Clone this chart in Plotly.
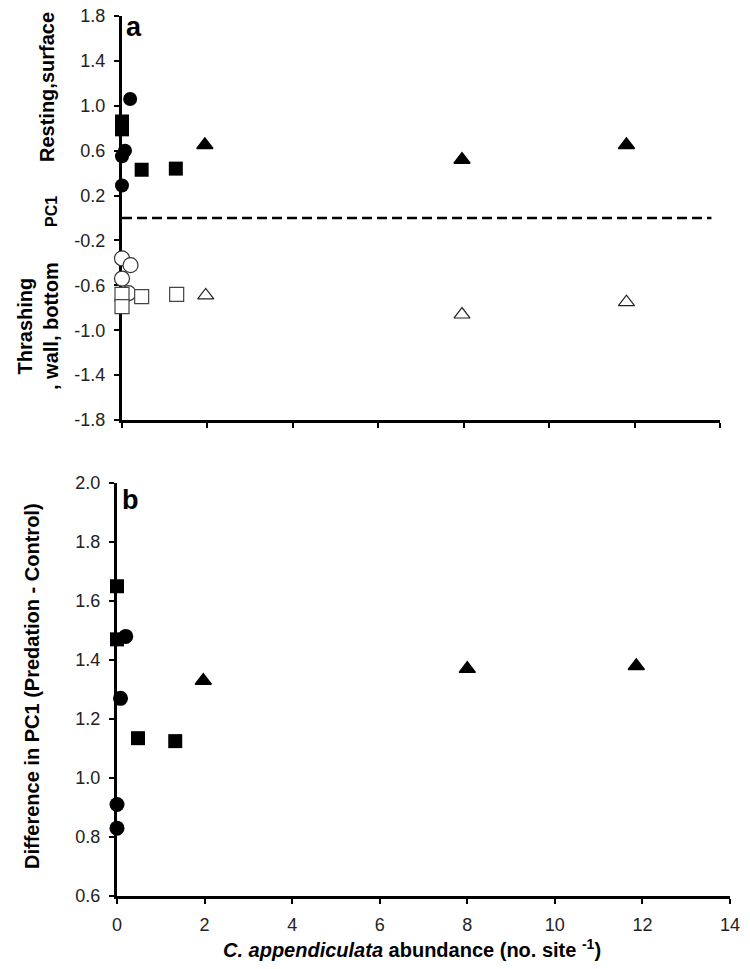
import plotly.graph_objects as go

# ---------------- Data ----------------
# Panel a: PC1 (filled = predation, open = control)
a_fill_circle_x = [0.19, 0.07, 0.0, 0.0]
a_fill_circle_y = [1.06, 0.60, 0.55, 0.29]
a_fill_square_x = [0.0, 0.0, 0.46, 1.26]
a_fill_square_y = [0.86, 0.79, 0.43, 0.44]
a_fill_tri_x = [1.94, 7.96, 11.81]
a_fill_tri_y = [0.65, 0.52, 0.65]
a_open_circle_x = [0.0, 0.2, 0.0, 0.15]
a_open_circle_y = [-0.36, -0.42, -0.54, -0.67]
a_open_square_x = [0.0, 0.0, 0.46, 1.28]
a_open_square_y = [-0.68, -0.79, -0.70, -0.68]
a_open_tri_x = [1.96, 7.96, 11.81]
a_open_tri_y = [-0.69, -0.86, -0.75]

# Panel b: Difference in PC1 (Predation - Control)
b_circle_x = [0.2, 0.08, 0.0, 0.0]
b_circle_y = [1.48, 1.27, 0.91, 0.83]
b_square_x = [0.0, 0.0, 0.48, 1.33]
b_square_y = [1.65, 1.47, 1.135, 1.125]
b_tri_x = [1.97, 8.0, 11.86]
b_tri_y = [1.33, 1.37, 1.38]

x_ticks = [0, 2, 4, 6, 8, 10, 12, 14]
a_y_ticks = [-1.8, -1.4, -1.0, -0.6, -0.2, 0.2, 0.6, 1.0, 1.4, 1.8]
b_y_ticks = [0.6, 0.8, 1.0, 1.2, 1.4, 1.6, 1.8, 2.0]
ref_line_x = [0, 13.8]
ref_line_y = [0, 0]

W, H = 750, 969
FONT = "Liberation Sans, Arial, sans-serif"


def px(x):
    return x / W


def py(y):
    return 1 - y / H


fig = go.Figure()


def add(x, y, symbol, size, filled, xa, ya, lc="black", lw=1.2):
    fig.add_trace(go.Scatter(
        x=x, y=y, mode="markers", xaxis=xa, yaxis=ya, cliponaxis=False,
        showlegend=False,
        marker=dict(symbol=symbol, size=size,
                    color="black" if filled else "white",
                    line=dict(color=lc, width=lw)),
    ))


# reference dashed line at PC1 = 0
fig.add_trace(go.Scatter(x=ref_line_x, y=ref_line_y, mode="lines", xaxis="x", yaxis="y",
                         line=dict(color="black", width=2.5, dash="10px,5px"), showlegend=False,
                         hoverinfo="skip"))

# panel a
add(a_open_circle_x, a_open_circle_y, "circle", 15, False, "x", "y", "#333")
add(a_open_square_x, a_open_square_y, "square", 14, False, "x", "y", "#444")
add(a_open_tri_x, a_open_tri_y, "triangle-up", 14, False, "x", "y", "#222")
add(a_fill_square_x, a_fill_square_y, "square", 14, True, "x", "y", lw=0)
add(a_fill_circle_x, a_fill_circle_y, "circle", 14, True, "x", "y", lw=0)
add(a_fill_tri_x, a_fill_tri_y, "triangle-up", 14, True, "x", "y", lw=1.5)

# panel b
add(b_square_x, b_square_y, "square", 14, True, "x2", "y2", lw=0)
add(b_circle_x, b_circle_y, "circle", 15, True, "x2", "y2", lw=0)
add(b_tri_x, b_tri_y, "triangle-up", 14, True, "x2", "y2", lw=1.5)

tickfont = dict(family=FONT, size=18, color="#222")
axis_common = dict(showline=True, linecolor="black", linewidth=3, ticks="outside",
                   ticklen=5, tickwidth=2, tickcolor="black", showgrid=False,
                   zeroline=False, tickfont=tickfont, layer="below traces", mirror=False,
                   automargin=False, ticklabelstandoff=5)

fig.update_layout(
    width=W, height=H, margin=dict(l=0, r=0, t=0, b=0, autoexpand=False),
    paper_bgcolor="white", plot_bgcolor="white",
    xaxis=dict(domain=[px(122), px(720)], range=[0, 14], tickvals=x_ticks,
               showticklabels=False, anchor="y", **axis_common),
    yaxis=dict(domain=[py(420), py(16)], range=[-1.8, 1.8], tickvals=a_y_ticks,
               ticktext=[f"{v:.1f}" for v in a_y_ticks], anchor="x", **axis_common),
    xaxis2=dict(domain=[px(117), px(730)], range=[0, 14], tickvals=x_ticks,
                ticktext=[str(v) for v in x_ticks], anchor="y2", **axis_common),
    yaxis2=dict(domain=[py(896), py(483)], range=[0.6, 2.0], tickvals=b_y_ticks,
                ticktext=[f"{v:.1f}" for v in b_y_ticks], anchor="x2", **axis_common),
)

ann = [
    dict(text="<b>a</b>", x=px(134), y=py(27), size=27, angle=0),
    dict(text="<b>b</b>", x=px(130), y=py(500), size=27, angle=0),
    dict(text="<b>Resting,surface</b>", x=px(47), y=py(87), size=20, angle=-90),
    dict(text="<b>PC1</b>", x=px(52), y=py(212), size=16, angle=-90),
    dict(text="<b>Thrashing<br>, wall, bottom</b>", x=px(38), y=py(326), size=20, angle=-90),
    dict(text="<b>Difference in PC1 (Predation - Control)</b>", x=px(32), y=py(686), size=20, angle=-90),
    dict(text="<b><i>C. appendiculata</i> abundance (no. site <sup>-1</sup>)</b>",
         x=px(412), y=py(948), size=20, angle=0),
]
for a in ann:
    fig.add_annotation(text=a["text"], x=a["x"], y=a["y"], xref="paper", yref="paper",
                       xanchor="center", yanchor="middle", showarrow=False, textangle=a["angle"],
                       font=dict(family=FONT, size=a["size"], color="black"))

fig.write_html("out.html", config={"displayModeBar": False},
               post_script="document.body.style.margin='0';document.body.style.overflow='hidden';")
